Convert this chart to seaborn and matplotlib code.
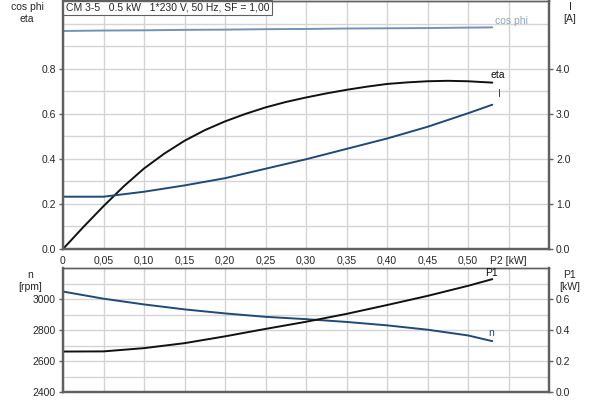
import matplotlib
matplotlib.use("Agg")
import matplotlib.pyplot as plt
import seaborn as sns
import numpy as np
import pandas as pd

# readings from the curve sheet
p2 = [0.0, 0.05, 0.10, 0.15, 0.20, 0.25, 0.30, 0.35, 0.40, 0.45, 0.50, 0.53]
cos_phi = [0.967, 0.969, 0.970, 0.972, 0.973, 0.975, 0.976, 0.978, 0.979, 0.980, 0.982, 0.983]
current = [1.16, 1.16, 1.27, 1.41, 1.57, 1.78, 1.99, 2.22, 2.45, 2.71, 3.01, 3.20]
speed = [3048, 3002, 2965, 2933, 2907, 2885, 2870, 2852, 2830, 2802, 2765, 2728]
p1 = [0.261, 0.262, 0.283, 0.315, 0.359, 0.407, 0.453, 0.504, 0.561, 0.620, 0.685, 0.728]

# eta bends strongly, so it was read at finer steps
p2_eta = [0.0, 0.025, 0.05, 0.075, 0.10, 0.125, 0.15, 0.175, 0.20, 0.225, 0.25,
          0.275, 0.30, 0.325, 0.35, 0.375, 0.40, 0.425, 0.45, 0.475, 0.50, 0.53]
eta = [0.0, 0.097, 0.19, 0.278, 0.357, 0.423, 0.48, 0.527, 0.566, 0.599, 0.628,
       0.652, 0.672, 0.69, 0.706, 0.72, 0.732, 0.739, 0.744, 0.746, 0.744, 0.738]

x_ticks = [0, 0.05, 0.10, 0.15, 0.20, 0.25, 0.30, 0.35, 0.40, 0.45, 0.50, 0.55]
x_labels = ["0", "0,05", "0,10", "0,15", "0,20", "0,25", "0,30", "0,35", "0,40", "0,45", "0,50", "P2 [kW]"]
title = "CM 3-5   0.5 kW   1*230 V, 50 Hz, SF = 1,00"

df = pd.DataFrame({"p2": p2, "cos_phi": cos_phi, "I": current, "n": speed, "P1": p1})
df_eta = pd.DataFrame({"p2": p2_eta, "eta": eta})

sns.set_style("white")
plt.rcParams["font.family"] = ["Liberation Sans", "DejaVu Sans"]
plt.rcParams["font.size"] = 7.5

BLACK = "#111111"
BLUE = "#1f4a78"
LIGHT = "#7393b3"
SPINE = "#606060"
GRID = "#d4d4d4"

fig = plt.figure(figsize=(6, 4), dpi=100)
ax1 = fig.add_axes([0.105, 0.3775, 0.81, 0.62])
ax3 = fig.add_axes([0.105, 0.02, 0.81, 0.31])
ax2 = ax1.twinx()
ax4 = ax3.twinx()


def style_axes(ax, twin):
    ax.set_xlim(0, 0.6)
    ax.set_xticks(x_ticks)
    ax.grid(True, which="both", color=GRID, lw=1.0)
    ax.set_axisbelow(True)
    for a in (ax, twin):
        for side, sp in a.spines.items():
            sp.set_color(SPINE)
            sp.set_linewidth(1.6 if side != "top" else 1.0)
        a.tick_params(which="major", length=3, width=1, color=SPINE, pad=2, labelsize=7.5)
        a.tick_params(which="minor", length=0)
        a.set_xlabel("")
        a.set_ylabel("")
    twin.grid(False)


# upper chart
sns.lineplot(data=df, x="p2", y="cos_phi", ax=ax1, color=LIGHT, lw=1.4)
sns.lineplot(data=df_eta, x="p2", y="eta", ax=ax1, color=BLACK, lw=1.4)
sns.lineplot(data=df, x="p2", y="I", ax=ax2, color=BLUE, lw=1.4)
style_axes(ax1, ax2)
ax1.set_ylim(0, 1.1)
ax1.set_yticks([0, 0.2, 0.4, 0.6, 0.8])
ax1.set_yticks(np.arange(0.1, 1.1, 0.1), minor=True)
ax1.set_yticklabels(["0.0", "0.2", "0.4", "0.6", "0.8"])
ax1.set_xticklabels(x_labels)
ax2.set_ylim(0, 5.5)
ax2.set_yticks([0, 1, 2, 3, 4])
ax2.set_yticklabels(["0.0", "1.0", "2.0", "3.0", "4.0"])

# lower chart
sns.lineplot(data=df, x="p2", y="n", ax=ax3, color=BLUE, lw=1.4)
sns.lineplot(data=df, x="p2", y="P1", ax=ax4, color=BLACK, lw=1.4)
style_axes(ax3, ax4)
ax3.set_ylim(2400, 3200)
ax3.set_yticks([2400, 2600, 2800, 3000])
ax3.set_yticks([2500, 2700, 2900, 3100], minor=True)
ax3.tick_params(axis="x", labelbottom=False, length=0)
ax4.set_ylim(0, 0.8)
ax4.set_yticks([0, 0.2, 0.4, 0.6])
ax4.set_yticklabels(["0.0", "0.2", "0.4", "0.6"])

# curve names at the line ends
ax1.annotate("cos phi", (p2[-1], cos_phi[-1]), xytext=(2, 1), textcoords="offset points",
             color="#8fa6bd", fontsize=7.5, va="bottom")
ax1.annotate("eta", (p2_eta[-1], eta[-1]), xytext=(-1, 2), textcoords="offset points",
             color=BLACK, fontsize=7.5, va="bottom")
ax2.annotate("I", (p2[-1], current[-1]), xytext=(4, 4), textcoords="offset points",
             color=BLUE, fontsize=7.5, va="bottom")
ax4.annotate("P1", (p2[-1], p1[-1]), xytext=(-5, 1), textcoords="offset points",
             color=BLACK, fontsize=7.5, va="bottom")
ax3.annotate("n", (p2[-1], speed[-1]), xytext=(-3, 2), textcoords="offset points",
             color=BLUE, fontsize=7.5, va="bottom")

# axis names
fig.text(0.045, 0.995, "cos phi\neta", ha="center", va="top", fontsize=7.5, linespacing=1.3)
fig.text(0.95, 0.995, "I\n[A]", ha="center", va="top", fontsize=7.5, linespacing=1.3)
fig.text(0.05, 0.325, "n\n[rpm]", ha="center", va="top", fontsize=7.5, linespacing=1.3)
fig.text(0.95, 0.325, "P1\n[kW]", ha="center", va="top", fontsize=7.5, linespacing=1.3)

ax1.text(0.006, 0.993, title, transform=ax1.transAxes, ha="left", va="top", fontsize=7.5,
         bbox=dict(boxstyle="square,pad=0.25", fc="white", ec=SPINE, lw=0.8), zorder=5)

fig.savefig("out.png", dpi=100)
